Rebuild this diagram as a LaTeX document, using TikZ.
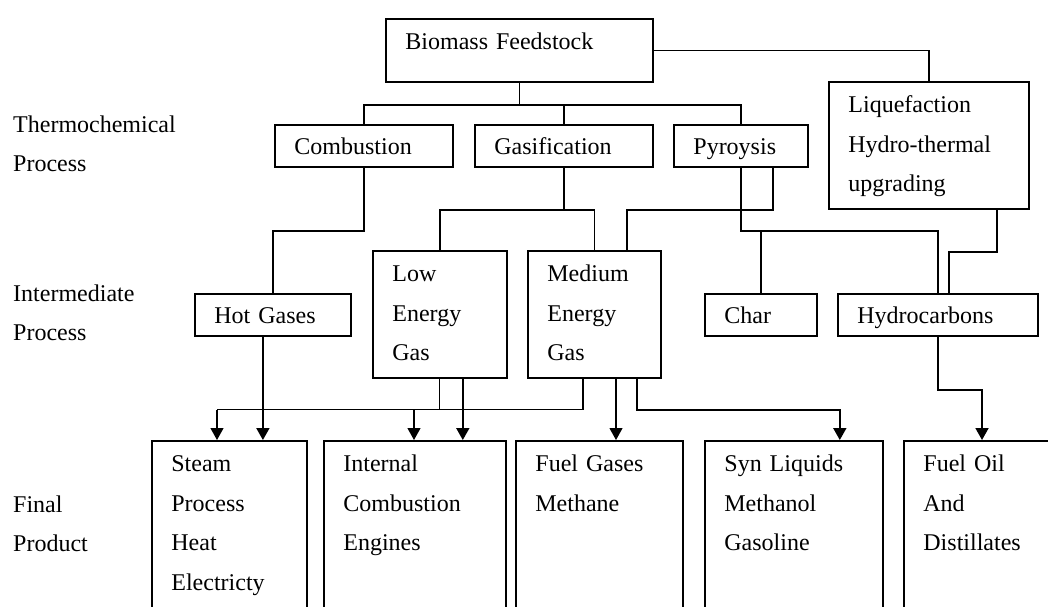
\documentclass[tikz,border=0pt]{standalone}
\usepackage{fontspec}
\setmainfont{Liberation Serif}
\usetikzlibrary{arrows.meta,calc}
\tikzset{
  box/.style={draw, line width=1.8pt, anchor=north west, inner xsep=19.5pt, inner ysep=0pt,
    align=left, font=\fontsize{24}{39.5}\selectfont},
  lbl/.style={anchor=north west, inner sep=0pt, text width=190pt, align=left,
    text height=20pt, font=\fontsize{24}{39.5}\selectfont},
  ln/.style={line width=1.8pt},
  tn/.style={line width=1.1pt},
  arr/.style={-{Triangle[width=13pt,length=12pt]}}
}
\begin{document}
\begin{tikzpicture}[x=1pt,y=-1pt]
\clip (0,0) rectangle (1048,606);
\fill[white] (0,0) rectangle (1048,606);
% left labels
\node[lbl] (lt) at (13,112) {Thermochemical\\Process};
\node[lbl] (li) at (13,281) {Intermediate\\Process};
\node[lbl] (lf) at (13,492) {Final\\Product};
% boxes
\node[box, text width=228pt, text height=31pt, text depth=32pt] (bio) at (385,18) {Biomass Feedstock};
\node[box, text width=139pt, text height=30pt, text depth=12pt] (comb) at (274,124) {Combustion};
\node[box, text width=139pt, text height=30pt, text depth=12pt] (gas) at (474,124) {Gasification};
\node[box, text width=95pt, text height=30pt, text depth=12pt] (pyr) at (673,124) {Pyroysis};
\node[box, text width=161pt, text height=31pt, text depth=96pt] (liq) at (828,81) {Liquefaction\\Hydro-thermal\\upgrading};
\node[box, text width=117pt, text height=30pt, text depth=12pt] (hot) at (194,293) {Hot Gases};
\node[box, text width=95pt, text height=31pt, text depth=96pt] (low) at (372,250) {Low\\Energy\\Gas};
\node[box, text width=94pt, text height=31pt, text depth=96pt] (med) at (527,250) {Medium\\Energy\\Gas};
\node[box, text width=73pt, text height=30pt, text depth=12pt] (char) at (704,293) {Char};
\node[box, text width=161pt, text height=30pt, text depth=12pt] (hyd) at (837,293) {Hydrocarbons};
\node[box, text width=116pt, text height=31pt, text depth=169pt] (steam) at (151,440) {Steam\\Process\\Heat\\Electricty};
\node[box, text width=143pt, text height=31pt, text depth=169pt] (ice) at (323,440) {Internal\\Combustion\\Engines};
\node[box, text width=128pt, text height=31pt, text depth=169pt] (fgas) at (515,440) {Fuel Gases\\Methane};
\node[box, text width=139pt, text height=31pt, text depth=169pt] (syn) at (704,440) {Syn Liquids\\Methanol\\Gasoline};
\node[box, text width=131pt, text height=31pt, text depth=169pt] (foil) at (903,440) {Fuel Oil\\And\\Distillates};
% upper tree
\draw[ln] (bio.south) -- ++(0,22) coordinate (b1);
\draw[ln] (comb.north) |- (b1) -| (pyr.north);
\draw[ln] (gas.north) -- (gas.north |- b1);
\draw[ln] (bio.east) -| (liq.north);
\draw[ln] (comb.south) -- ++(0,63) -| (hot.north);
\draw[ln] (gas.south) -- ++(0,42) coordinate (g1);
\draw[ln] (low.north) |- (g1) -| (med.north);
\draw[ln] ([xshift=-36pt]pyr.south east) -- ++(0,42) -| ([xshift=-35pt]med.north east);
\draw[ln] (pyr.south) -- ++(0,63) coordinate (p1) -| (hyd.north);
\draw[ln] (char.north) -- (char.north |- p1);
\draw[ln] ([xshift=-33pt]liq.south east) -- ++(0,42) -| ([xshift=11pt]hyd.north);
% lower connectors
\coordinate (h1) at ([xshift=-10pt]hot.south);
\draw[ln,arr] (h1) -- (h1 |- steam.north);
\coordinate (m1) at ([xshift=56pt]med.south west);
\draw[ln] (m1) -- ++(0,31) coordinate (c1);
\draw[tn] (low.south) -- (low.south |- c1);
\coordinate (s1) at ([xshift=66pt]steam.north west);
\coordinate (i1) at ([xshift=91pt]ice.north west);
\draw[tn] (c1) -- (s1 |- c1);
\draw[tn,arr] (s1 |- c1) -- (s1);
\draw[tn,arr] (i1 |- c1) -- (i1);
\coordinate (l1) at ([xshift=-45pt]low.south east);
\draw[ln,arr] (l1) -- (l1 |- ice.north);
\coordinate (m2) at ([xshift=89pt]med.south west);
\draw[tn,arr] (m2) -- (m2 |- fgas.north);
\coordinate (m3) at ([xshift=110pt]med.south west);
\coordinate (s2) at ([xshift=-44pt]syn.north east);
\draw[ln,arr] (m3) -- ++(0,31) -| (s2);
\coordinate (f1) at ([xshift=79pt]foil.north west);
\draw[ln,arr] (hyd.south) -- ++(0,53) -| (f1);
\end{tikzpicture}
\end{document}
